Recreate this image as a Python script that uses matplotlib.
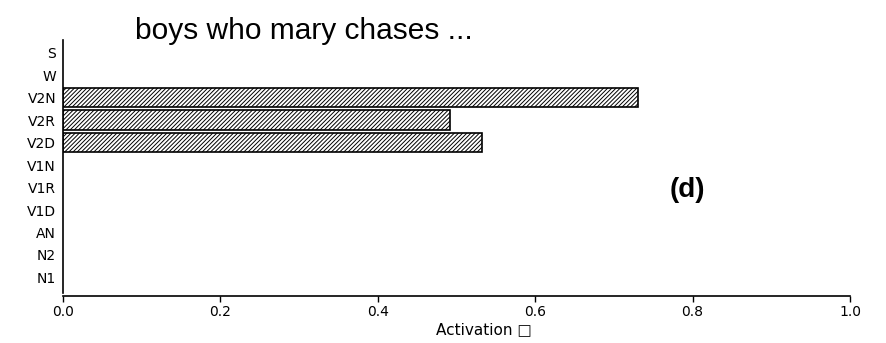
import numpy as np
import matplotlib
matplotlib.use("Agg")
import matplotlib.pyplot as plt

# activation per unit, bottom row first
units = ["N1", "N2", "AN", "V1D", "V1R", "V1N", "V2D", "V2R", "V2N", "W", "S"]
activation = [0.0, 0.0, 0.0, 0.0, 0.0, 0.0, 0.532, 0.492, 0.730, 0.0, 0.0]
xticks = [0.0, 0.2, 0.4, 0.6, 0.8, 1.0]
xticklabels = ["0.0", "0.2", "0.4", "0.6", "0.8", "1.0"]

plt.rcParams["hatch.linewidth"] = 0.7

fig = plt.figure(figsize=(8.86, 3.43), dpi=100)
ax = fig.add_axes([0.0711, 0.1458, 0.8883, 0.7376])

y = np.arange(len(units))
vals = np.array(activation)
ax.barh(y[vals > 0], vals[vals > 0], height=0.85, color="white",
        edgecolor="black", hatch="////////", linewidth=1.2)

ax.set_xlim(0, 1)
ax.set_ylim(-0.69, 10.56)
ax.set_yticks(y)
ax.set_yticklabels(units, fontsize=10, family="DejaVu Sans")
ax.tick_params(axis="y", length=0, pad=5)
ax.set_xticks(xticks)
ax.set_xticklabels(xticklabels, fontsize=11, family="DejaVu Sans")
ax.tick_params(axis="x", length=4, width=1, direction="out", pad=3)

for s in ["top", "right"]:
    ax.spines[s].set_visible(False)
ax.spines["bottom"].set_position(("outward", 2))
ax.spines["left"].set_linewidth(1.2)
ax.spines["bottom"].set_linewidth(1.2)

ax.set_xlabel("Activation \u25a1", fontsize=11, family="DejaVu Sans")
ax.xaxis.set_label_coords(0.535, -0.115)

fig.text(135 / 886, 1 - 31 / 343, "boys who mary chases ...", fontsize=21.5,
         family="Liberation Sans", va="center", ha="left")
fig.text(687 / 886, 1 - 190 / 343, "(d)", fontsize=20, fontweight="bold",
         family="Liberation Sans", va="center", ha="center")

fig.savefig("out.png", dpi=100)
